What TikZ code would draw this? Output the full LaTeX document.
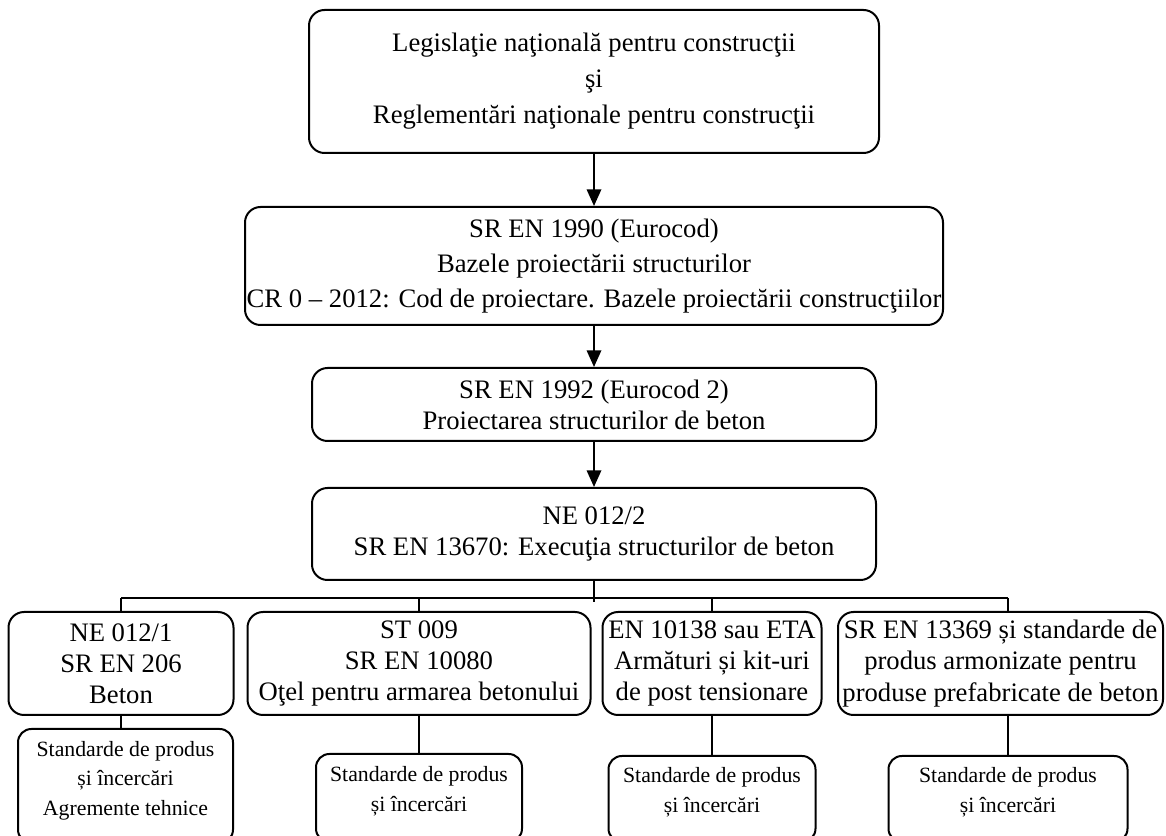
\documentclass[tikz,border=0pt]{standalone}
\usepackage{fontspec}
\setmainfont{Liberation Serif}
\usetikzlibrary{arrows.meta}
\newlength\pxu
\setlength\pxu{0.45pt}
\tikzset{
  normbox/.style={draw, line width=0.9pt, rounded corners=7pt, align=center, inner sep=0pt, font=\fontsize{12}{16.2}\selectfont},
  prodbox/.style={normbox, font=\fontsize{12}{14}\selectfont},
  stdbox/.style={normbox, rounded corners=6pt, font=\fontsize{9.8}{13.3}\selectfont},
  link/.style={line width=0.9pt},
  flow/.style={link, -{Triangle[length=7.5pt,width=6.5pt]}}
}
\begin{document}
\begin{tikzpicture}[x=0.45pt, y=-0.45pt]
\useasboundingbox (0,0) rectangle (1166,836);
% main chain
\node[normbox, minimum width=570*\pxu, minimum height=143*\pxu] (legis) at (594,81.5)
  {Legislaţie naţională pentru construcţii\\ şi\\ Reglementări naţionale pentru construcţii};
\node[normbox, minimum width=698*\pxu, minimum height=118*\pxu, font=\fontsize{12}{15.75}\selectfont] (eurocod) at (594,266)
  {SR EN 1990 (Eurocod)\\ Bazele proiectării structurilor\\ CR 0 – 2012: Cod de proiectare. Bazele proiectării construcţiilor};
\node[prodbox, minimum width=564*\pxu, minimum height=73*\pxu] (ec2) at (594,404.5)
  {SR EN 1992 (Eurocod 2)\\ Proiectarea structurilor de beton};
\node[prodbox, minimum width=564*\pxu, minimum height=92*\pxu] (ne2) at (594,534)
  {NE 012/2\\ SR EN 13670: Execuţia structurilor de beton};
\draw[flow] (legis) -- (eurocod);
\draw[flow] (eurocod) -- (ec2);
\draw[flow] (ec2) -- (ne2);
% materials
\node[prodbox, minimum width=225*\pxu, minimum height=103*\pxu] (ne1) at (121,663.5)
  {NE 012/1\\ SR EN 206\\ Beton};
\node[prodbox, minimum width=343*\pxu, minimum height=103*\pxu] (st) at (419,663.5)
  {ST 009\\ SR EN 10080\\ Oţel pentru armarea betonului};
\node[prodbox, minimum width=219*\pxu, minimum height=103*\pxu] (en) at (712,663.5)
  {EN 10138 sau ETA\\ Armături și kit-uri\\ de post tensionare};
\node[prodbox, minimum width=325*\pxu, minimum height=103*\pxu] (srn) at (1000.5,663.5)
  {SR EN 13369 și standarde de\\ produs armonizate pentru\\ produse prefabricate de beton};
\coordinate (d1) at (121,598);
\coordinate (d2) at (419,598);
\coordinate (d3) at (712,598);
\coordinate (d4) at (1008,598);
\draw[link] (ne2.south) -- ++(0,21);
\draw[link] (d1) -- (d4);
\foreach \d/\b in {d1/ne1, d2/st, d3/en, d4/srn}
  \draw[link] (\d) -- (\d |- \b.north);
% standards
\node[stdbox, minimum width=215*\pxu, minimum height=114*\pxu] (std1) at (125.5,786)
  {Standarde de produs\\ și încercări\\ Agremente tehnice\rule[-7pt]{0pt}{0pt}};
\node[stdbox, minimum width=206*\pxu, minimum height=88*\pxu] (std2) at (419,798)
  {Standarde de produs\\ și încercări\rule[-8pt]{0pt}{0pt}};
\node[stdbox, minimum width=207*\pxu, minimum height=86*\pxu] (std3) at (712,799)
  {Standarde de produs\\ și încercări\rule[-8pt]{0pt}{0pt}};
\node[stdbox, minimum width=239*\pxu, minimum height=86*\pxu] (std4) at (1008,799)
  {Standarde de produs\\ și încercări\rule[-8pt]{0pt}{0pt}};
\draw[link] (ne1.south) -- (ne1.south |- std1.north);
\foreach \b/\s in {st/std2, en/std3, srn/std4}
  \draw[link] (\s.north |- \b.south) -- (\s.north);
\end{tikzpicture}
\end{document}
